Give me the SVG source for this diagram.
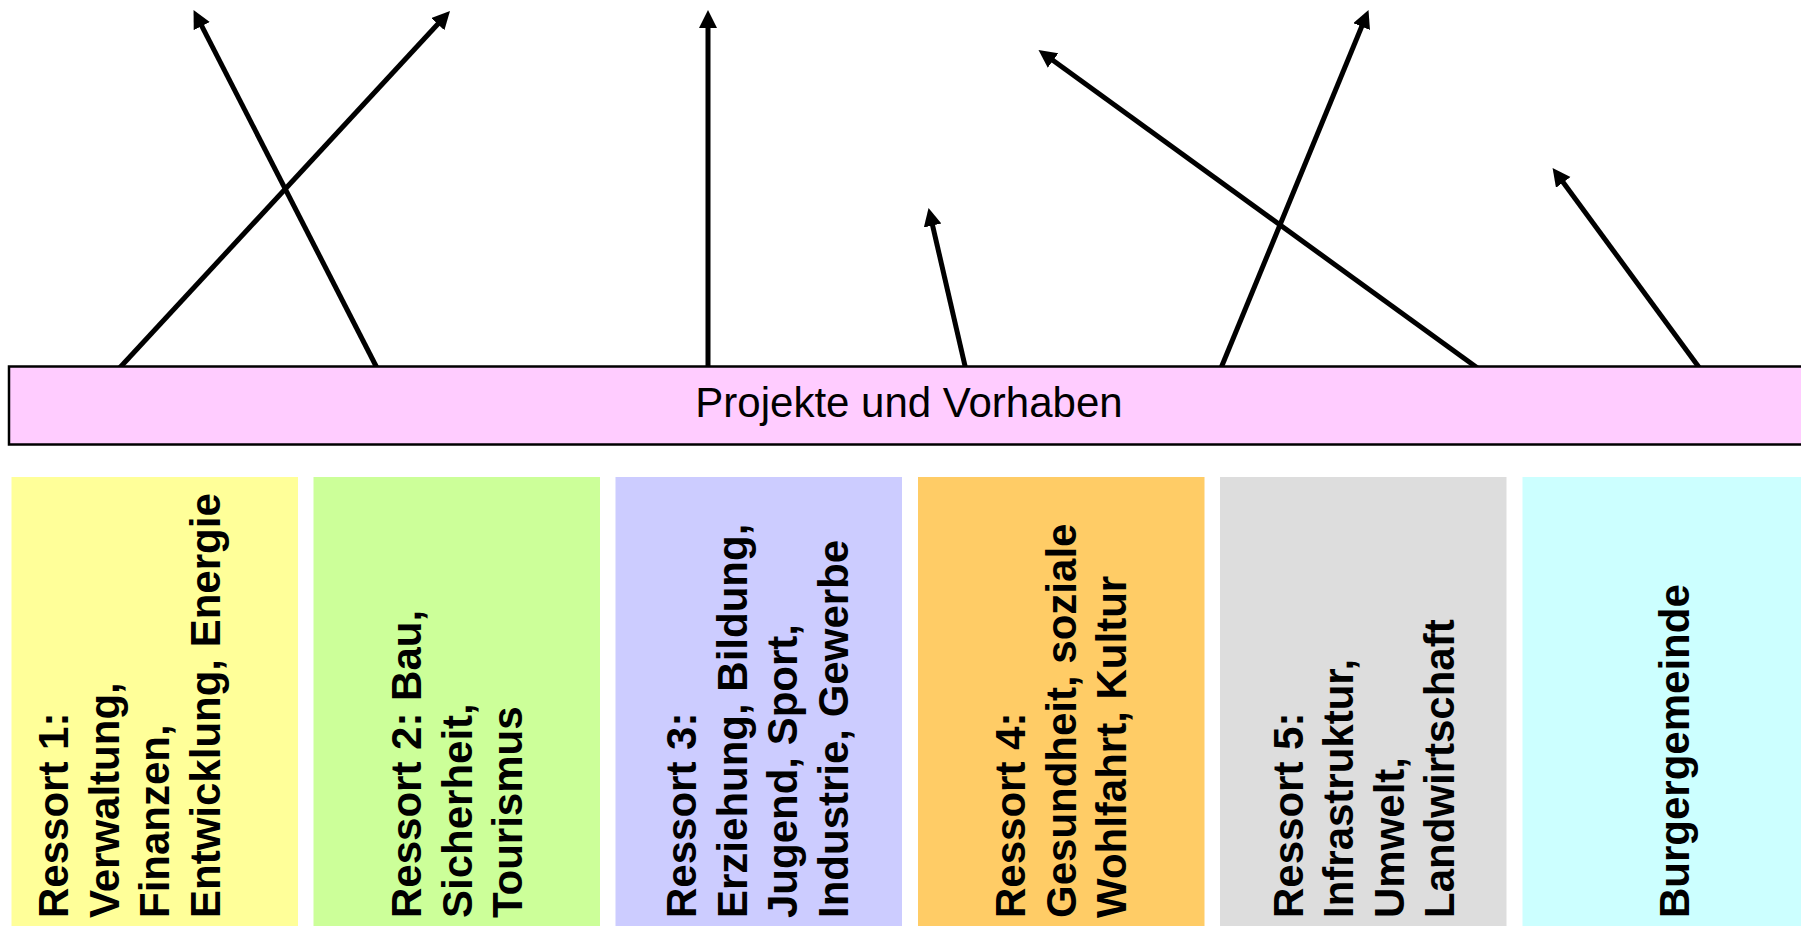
<svg xmlns="http://www.w3.org/2000/svg" width="1801" height="926" viewBox="0 0 1801 926">
<style>
.lbl{font-family:"Liberation Sans",Arial,sans-serif;font-size:42px;fill:#000}
.b{font-weight:bold}
.box{stroke:none}
.con{stroke:#000;stroke-width:5;fill:none;marker-end:url(#ah)}
</style>
<defs>
<marker id="ah" markerUnits="userSpaceOnUse" markerWidth="20" markerHeight="20" refX="8" refY="9" orient="auto">
<path d="M0,0 L18,9 L0,18 z" fill="#000"/>
</marker>
</defs>
<rect width="1801" height="926" fill="#fff"/>
<g id="connectors">
<line class="con" x1="119.5" y1="368" x2="443.2" y2="18.3"/>
<line class="con" x1="377" y1="368" x2="198.1" y2="18.9"/>
<line class="con" x1="708" y1="368" x2="708" y2="20"/>
<line class="con" x1="965.5" y1="368" x2="930.8" y2="217.7"/>
<line class="con" x1="1477.5" y1="368" x2="1046.6" y2="55.8"/>
<line class="con" x1="1221" y1="368" x2="1364.7" y2="19.2"/>
<line class="con" x1="1699.5" y1="368" x2="1558.5" y2="176"/>
</g>
<g id="projekte">
<rect x="9" y="366.5" width="1800" height="78" fill="#FFCCFF" stroke="#000" stroke-width="2.5"/>
<text class="lbl" x="909" y="417" text-anchor="middle">Projekte und Vorhaben</text>
</g>
<g id="ressort1">
<rect class="box" x="11.5" y="477" width="286.5" height="460" fill="#FFFF99"/>
<text class="lbl b" transform="translate(0,918) rotate(-90)"><tspan x="0" y="68">Ressort 1:</tspan><tspan x="0" y="118.6">Verwaltung,</tspan><tspan x="0" y="169.2">Finanzen,</tspan><tspan x="0" y="219.8">Entwicklung, Energie</tspan></text>
</g>
<g id="ressort2">
<rect class="box" x="313.5" y="477" width="286.5" height="460" fill="#CCFF99"/>
<text class="lbl b" transform="translate(0,918) rotate(-90)"><tspan x="0" y="421">Ressort 2: Bau,</tspan><tspan x="0" y="471.6">Sicherheit,</tspan><tspan x="0" y="522.2">Tourismus</tspan></text>
</g>
<g id="ressort3">
<rect class="box" x="615.5" y="477" width="286.5" height="460" fill="#CCCCFF"/>
<text class="lbl b" transform="translate(0,918) rotate(-90)"><tspan x="0" y="696">Ressort 3:</tspan><tspan x="0" y="746.6">Erziehung, Bildung,</tspan><tspan x="0" y="797.2">Jugend, Sport,</tspan><tspan x="0" y="847.8">Industrie, Gewerbe</tspan></text>
</g>
<g id="ressort4">
<rect class="box" x="918" y="477" width="286.5" height="460" fill="#FFCC66"/>
<text class="lbl b" transform="translate(0,918) rotate(-90)"><tspan x="0" y="1025">Ressort 4:</tspan><tspan x="0" y="1075.6">Gesundheit, soziale</tspan><tspan x="0" y="1126.2">Wohlfahrt, Kultur</tspan></text>
</g>
<g id="ressort5">
<rect class="box" x="1220" y="477" width="286.5" height="460" fill="#DDDDDD"/>
<text class="lbl b" transform="translate(0,918) rotate(-90)"><tspan x="0" y="1302.6">Ressort 5:</tspan><tspan x="0" y="1353.2">Infrastruktur,</tspan><tspan x="0" y="1403.8">Umwelt,</tspan><tspan x="0" y="1454.4">Landwirtschaft</tspan></text>
</g>
<g id="burgergemeinde">
<rect class="box" x="1522.5" y="477" width="286.5" height="460" fill="#CCFFFF"/>
<text class="lbl b" transform="translate(0,918) rotate(-90)"><tspan x="0" y="1689">Burgergemeinde</tspan></text>
</g>
</svg>
